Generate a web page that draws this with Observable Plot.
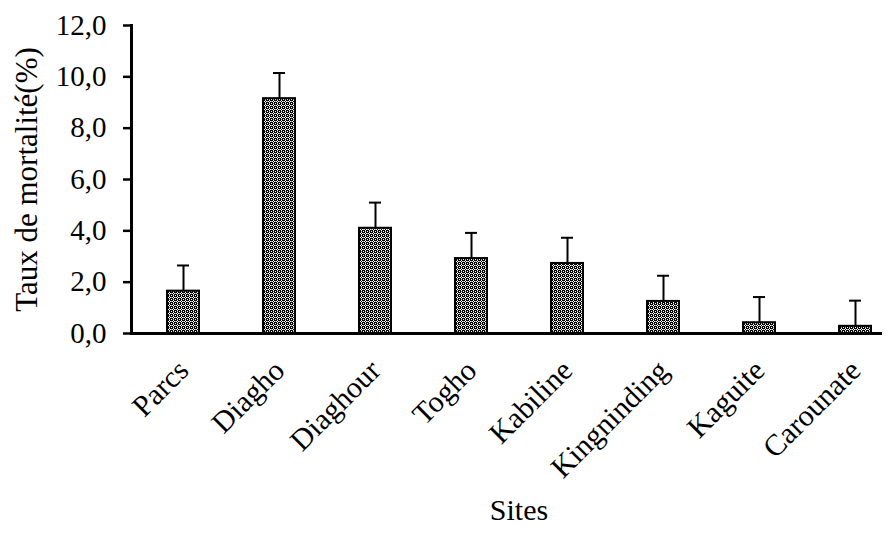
<!DOCTYPE html>
<html>
<head>
<meta charset="utf-8">
<script src="https://cdn.jsdelivr.net/npm/d3@7"></script>
<script src="https://cdn.jsdelivr.net/npm/@observablehq/plot@0.6"></script>
<style>
  body { margin: 0; background: #fff; }
  svg { font-family: "Liberation Serif", "Times New Roman", serif; }
</style>
</head>
<body>
<div id="chart"></div>
<script>
const sites = ["Parcs", "Diagho", "Diaghour", "Togho", "Kabiline", "Kingninding", "Kaguite", "Carounate"];
const mortality = [1.65, 9.15, 4.1, 2.92, 2.73, 1.25, 0.42, 0.28];
const errors = [1.0, 1.0, 1.0, 1.0, 1.0, 1.0, 1.0, 1.0];
const yTicks = [0, 2, 4, 6, 8, 10, 12];

const data = sites.map((s, i) => ({ site: s, value: mortality[i], err: errors[i] }));
const fmt = d => d.toFixed(1).replace(".", ",");

const plot = Plot.plot({
  width: 892,
  height: 533,
  marginLeft: 131,
  marginRight: 12,
  marginTop: 25,
  marginBottom: 200,
  style: { fontFamily: "Liberation Serif, Times New Roman, serif", background: "#fff", color: "#000" },
  x: { domain: sites, range: [133, 904], paddingInner: 0.67, paddingOuter: 0.335 },
  y: { domain: [0, 12], range: [333, 25] },
  marks: [
    Plot.barY(data, { x: "site", y: "value", fill: "url(#dots)", stroke: "#000", strokeWidth: 2 }),
    Plot.ruleX(data, { x: "site", y1: "value", y2: d => d.value + d.err, stroke: "#000", strokeWidth: 2 }),
    Plot.tickY(data, { x: "site", y: d => d.value + d.err, stroke: "#000", strokeWidth: 2, insetLeft: 10, insetRight: 10 }),
    Plot.axisY({ ticks: yTicks, tickFormat: fmt, tickSize: 8, tickPadding: 17, strokeWidth: 2.5, fontSize: 29, label: null }),
    Plot.axisX({ tickRotate: -45, tickSize: 0, tickPadding: 32, fontSize: 30, label: null }),
    Plot.frame({ anchor: "left", stroke: "#000", strokeWidth: 3 }),
    Plot.frame({ anchor: "bottom", stroke: "#000", strokeWidth: 3 }),
    Plot.text(["Taux de mortalité(%)"], { frameAnchor: "left", textAnchor: "middle", rotate: -90, dx: -104, fontSize: 31, fill: "#000" }),
    Plot.text(["Sites"], { frameAnchor: "bottom", dx: 13, dy: 186, fontSize: 30, fill: "#000" })
  ]
});

const svg = plot;
const ns = "http://www.w3.org/2000/svg";
const defs = document.createElementNS(ns, "defs");
defs.innerHTML = `<pattern id="dots" width="4" height="4" patternUnits="userSpaceOnUse">
  <rect width="4" height="4" fill="#000"/>
  <rect x="1" y="0" width="1" height="1" fill="#fff"/>
  <rect x="0" y="1" width="1" height="1" fill="#fff"/>
  <rect x="2" y="1" width="1" height="1" fill="#fff"/>
  <rect x="1" y="2" width="1" height="1" fill="#fff"/>
  <rect x="3" y="3" width="1" height="1" fill="#fff"/>
  <rect x="3" y="1" width="1" height="1" fill="#999"/>
  <rect x="1" y="3" width="1" height="1" fill="#999"/>
</pattern>`;
svg.insertBefore(defs, svg.firstChild);
document.getElementById("chart").appendChild(plot);
</script>
</body>
</html>
